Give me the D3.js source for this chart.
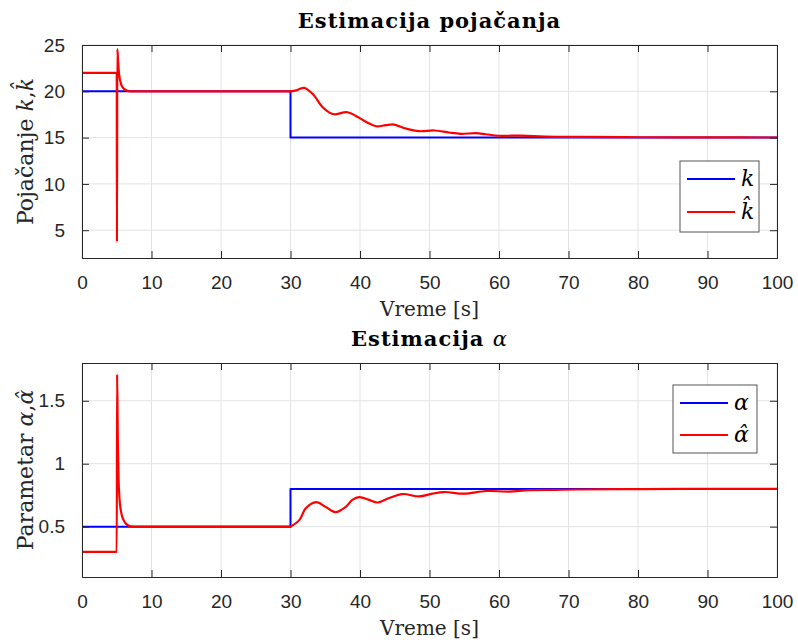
<!DOCTYPE html>
<html><head><meta charset="utf-8">
<script src="https://cdn.jsdelivr.net/npm/d3@7"></script>
<style>body{margin:0;background:#fff}</style>
</head><body><svg id="c" width="798" height="643"></svg>
<script>
// ---------- data ----------
const xTicks = [0,10,20,30,40,50,60,70,80,90,100];
const kTicks = [5,10,15,20,25];
const aTicks = [0.5,1,1.5];

const kTrueT = [0, 30, 30, 100];
const kTrueV = [20, 20, 15, 15];
const kHatT = [0, 5, 5.03, 5.08, 5.2, 5.32, 5.66, 6.0, 6.38, 7.0, 8, 30, 30.8, 31.3, 32, 33.2, 34.6, 35.6, 36.3, 38.2, 39.9, 41.1, 42.3, 43.7, 44.9, 46.6, 48.5, 50.7, 52.8, 54.5, 56.7, 58.1, 60, 63.3, 66.6, 71.5, 80, 90, 100];
const kHatV = [22, 22, 3.75, 24.55, 23.2, 21.95, 20.7, 20.3, 20.1, 20.0, 20, 20, 20.1, 20.25, 20.37, 19.7, 18.3, 17.7, 17.52, 17.74, 17.13, 16.6, 16.23, 16.34, 16.41, 15.98, 15.69, 15.77, 15.55, 15.41, 15.48, 15.36, 15.2, 15.22, 15.1, 15.08, 15.04, 15.02, 15.01];

const aTrueT = [0, 30, 30, 100];
const aTrueV = [0.5, 0.5, 0.8, 0.8];
const aHatT = [0, 5, 5.05, 5.15, 5.25, 5.4, 5.66, 6.0, 6.38, 7.0, 8, 30, 31.3, 32.2, 33.7, 35.1, 36.5, 38, 38.9, 39.9, 41.3, 42.5, 44.2, 46.1, 48.5, 50.4, 52.1, 55, 58.1, 61.4, 64.3, 68, 71.5, 80, 90, 100];
const aHatV = [0.3, 0.3, 1.71, 1.2, 0.9, 0.72, 0.607, 0.55, 0.52, 0.503, 0.5, 0.5, 0.554, 0.647, 0.695, 0.655, 0.615, 0.66, 0.713, 0.735, 0.713, 0.692, 0.727, 0.759, 0.74, 0.762, 0.775, 0.762, 0.783, 0.779, 0.79, 0.792, 0.795, 0.798, 0.8, 0.8];

const svg = d3.select('#c');
const L = 82, R = 777;
const x = d3.scaleLinear().domain([0,100]).range([L,R]);
const SANS = "'Liberation Sans', Arial, Helvetica, sans-serif";
const SERIF = "'DejaVu Serif', serif";
const AX = '#262626';

function panel(cfg){
  const {top, bottom, ydom, yticks, yfmt, series, title, ylab, legend} = cfg;
  const y = d3.scaleLinear().domain(ydom).range([bottom, top]);
  const g = svg.append('g');
  const id = 'clip' + top;
  svg.append('clipPath').attr('id', id).append('rect')
    .attr('x', L).attr('y', top).attr('width', R-L).attr('height', bottom-top);
  // grid
  g.append('g').selectAll('line').data(xTicks).join('line')
    .attr('x1', d=>x(d)).attr('x2', d=>x(d)).attr('y1', top).attr('y2', bottom)
    .attr('stroke', '#e3e3e3').attr('stroke-width', 1);
  g.append('g').selectAll('line').data(yticks).join('line')
    .attr('y1', d=>y(d)).attr('y2', d=>y(d)).attr('x1', L).attr('x2', R)
    .attr('stroke', '#e3e3e3').attr('stroke-width', 1);
  // series
  series.forEach(s => {
    const pts = s.t.map((t,i)=>[t, s.v[i]]);
    const parts = s.split == null ? [[pts, d3.curveLinear]]
      : [[pts.filter(p=>p[0] <= s.split), d3.curveMonotoneX],
         [pts.filter(p=>p[0] >= s.split), d3.curveCatmullRom.alpha(0.5)]];
    parts.forEach(([pp, curve]) => {
      const line = d3.line().x(d=>x(d[0])).y(d=>y(d[1])).curve(curve);
      g.append('path').attr('d', line(pp)).attr('fill','none')
        .attr('stroke', s.color).attr('stroke-width', s.w).attr('clip-path', `url(#${id})`)
        .attr('stroke-linejoin','round').attr('stroke-linecap','round');
    });
  });
  // axes
  const xb = d3.axisBottom(x).tickValues(xTicks).tickSize(-7).tickPadding(18).tickFormat(d3.format('d'));
  const xt = d3.axisTop(x).tickValues(xTicks).tickSize(-7).tickFormat('');
  const yl = d3.axisLeft(y).tickValues(yticks).tickSize(-7).tickPadding(17).tickFormat(yfmt);
  const yr = d3.axisRight(y).tickValues(yticks).tickSize(-7).tickFormat('');
  [[xb, `translate(0,${bottom})`], [xt, `translate(0,${top})`], [yl, `translate(${L},0)`], [yr, `translate(${R},0)`]].forEach(([ax, tr]) => {
    const a = g.append('g').attr('transform', tr).call(ax);
    a.select('.domain').attr('stroke', AX).attr('stroke-width', 1);
    a.selectAll('.tick line').attr('stroke', AX);
    a.selectAll('.tick text').attr('fill', AX).style('font-family', SANS).style('font-size', '19px');
  });
  // title
  g.append('text').attr('x', (L+R)/2).attr('y', top - 17).attr('text-anchor','middle')
    .style('font-family', SERIF).style('font-weight','bold').style('font-size','21px')
    .style('letter-spacing','1px').attr('fill','#000')
    .html(title);
  // x label
  g.append('text').attr('x', (L+R)/2).attr('y', bottom + 58).attr('text-anchor','middle')
    .style('font-family', SERIF).style('font-size','20px').attr('fill', AX).text('Vreme [s]');
  // y label
  g.append('text').attr('transform', `translate(33,${(top+bottom)/2}) rotate(-90)`).attr('text-anchor','middle')
    .style('font-family', SERIF).style('font-size','22px').attr('fill', AX).html(ylab);
  // legend
  const lg = g.append('g');
  lg.append('rect').attr('x', legend.x).attr('y', legend.y).attr('width', legend.w).attr('height', legend.h)
    .attr('fill', '#fff').attr('stroke', '#555').attr('stroke-width', 1);
  legend.items.forEach((it, i) => {
    const yy = legend.y + legend.dy0 + i*legend.dy;
    lg.append('line').attr('x1', legend.x + 7).attr('x2', legend.x + 7 + legend.len).attr('y1', yy).attr('y2', yy)
      .attr('stroke', it.color).attr('stroke-width', 2);
    lg.append('text').attr('x', legend.x + 13 + legend.len).attr('y', yy + 7)
      .style('font-family', SERIF).style('font-style','italic').style('font-size','22px').attr('fill','#000')
      .text(it.label);
  });
}

panel({
  top: 45, bottom: 258, ydom: [2, 25], yticks: kTicks, yfmt: d3.format('d'),
  title: 'Estimacija pojačanja',
  ylab: 'Pojačanje <tspan font-style="italic">k</tspan>,<tspan font-style="italic">k̂</tspan>',
  series: [
    {t: kTrueT, v: kTrueV, color: '#0000ff', w: 2},
    {t: kHatT, v: kHatV, color: '#ff0000', w: 2.2, split: 30}
  ],
  legend: {x: 680, y: 161, w: 79, h: 71, dy0: 18, dy: 33, len: 48,
    items: [{label: 'k', color: '#0000ff'}, {label: 'k̂', color: '#ff0000'}]}
});

panel({
  top: 363, bottom: 577, ydom: [0.1, 1.8], yticks: aTicks, yfmt: d => d3.format('')(d),
  title: 'Estimacija <tspan font-weight="normal" font-style="italic">α</tspan>',
  ylab: 'Parametar <tspan font-style="italic">α</tspan>,<tspan font-style="italic">α̂</tspan>',
  series: [
    {t: aTrueT, v: aTrueV, color: '#0000ff', w: 2},
    {t: aHatT, v: aHatV, color: '#ff0000', w: 2.2, split: 30}
  ],
  legend: {x: 673, y: 385, w: 84, h: 68, dy0: 18, dy: 32, len: 48,
    items: [{label: 'α', color: '#0000ff'}, {label: 'α̂', color: '#ff0000'}]}
});
</script></body></html>
